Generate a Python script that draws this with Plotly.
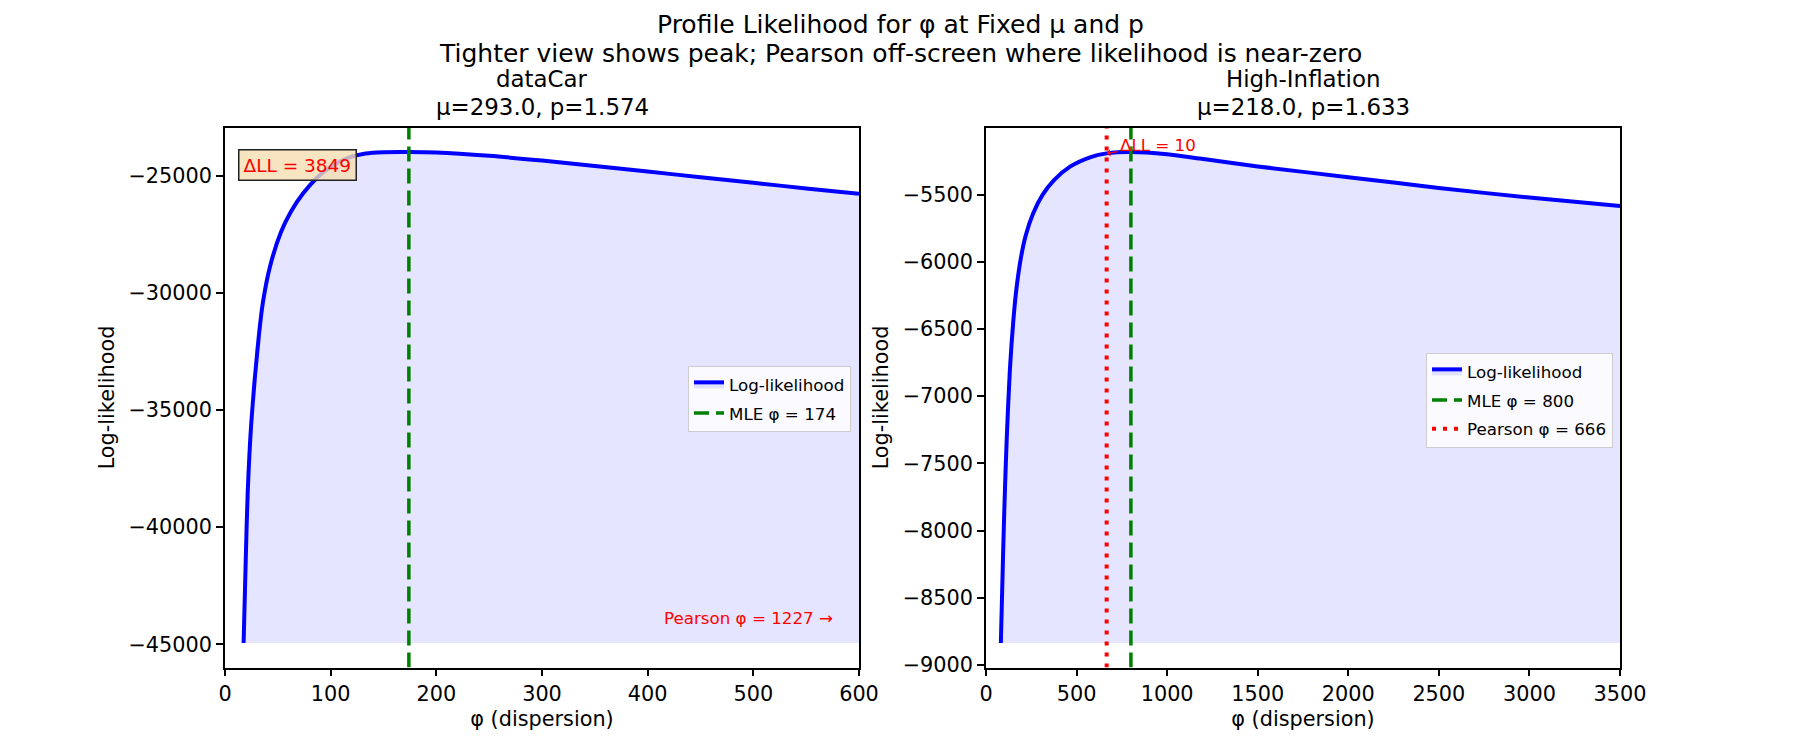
import plotly.graph_objects as go

# ---------------- data ----------------
phi_left = [17.6, 19.6, 21.5, 24.9, 32, 36, 42.5, 53, 62.5, 74, 88, 98, 117, 133, 150, 174,
            200, 250, 300, 350, 400, 450, 500, 550, 600]
ll_left = [-44945, -41460, -38500, -35540, -31850, -30370, -28890, -27400, -26520, -25750,
           -25040, -24680, -24230, -24050, -23995, -23987, -24010, -24150, -24350, -24580,
           -24820, -25060, -25300, -25540, -25770]

phi_right = [82, 92, 101, 114, 132, 152, 168, 194, 220, 260, 313, 377, 466, 578, 666, 800,
             1000, 1200, 1500, 2000, 2500, 3000, 3500]
ll_right = [-8837, -8300, -7850, -7330, -6800, -6420, -6200, -5960, -5800, -5640, -5500,
            -5390, -5290, -5220, -5193, -5183, -5200, -5235, -5290, -5370, -5450, -5522, -5585]

mle_left = 174
pearson_left = 1227
delta_ll_left = 3849
mle_right = 800
pearson_right = 666
delta_ll_right = 10

panel_names = ["dataCar", "High-Inflation"]
panel_params = ["μ=293.0, p=1.574", "μ=218.0, p=1.633"]

xticks_left = [0, 100, 200, 300, 400, 500, 600]
yticks_left = [-45000, -40000, -35000, -30000, -25000]
xticks_right = [0, 500, 1000, 1500, 2000, 2500, 3000, 3500]
yticks_right = [-9000, -8500, -8000, -7500, -7000, -6500, -6000, -5500]
xlim_left = [0, 600]
xlim_right = [0, 3500]

# ---------------- styling ----------------
FONT = "DejaVu Sans"
W, H = 1800, 750
BLUE = "rgb(0,0,255)"
GREEN = "rgb(0,128,0)"
RED = "rgb(255,0,0)"
FILL = "rgba(0,0,255,0.1)"

dom_x1 = [225 / W, 859 / W]
dom_x2 = [986 / W, 1620 / W]
dom_y = [1 - 667.5 / H, 1 - 127.5 / H]


def auto_range(vals):
    lo, hi = min(vals), max(vals)
    r = hi - lo
    return [lo - 0.05 * r, hi + 0.05 * r]


def lab(v):
    return ("\u2212" + str(abs(v))) if v < 0 else str(v)


fig = go.Figure()


def add_panel(phi, ll, xa, ya, legend, vlines):
    base = [min(ll)] * len(phi)
    fig.add_trace(go.Scatter(x=phi, y=base, mode="lines", line=dict(width=0, color=FILL),
                             showlegend=False, hoverinfo="skip", xaxis=xa, yaxis=ya))
    fig.add_trace(go.Scatter(x=phi, y=ll, mode="lines", fill="tonexty", fillcolor=FILL,
                             line=dict(color=BLUE, width=4, shape="spline", smoothing=0.8),
                             name="Log-likelihood", legend=legend, legendgroup=legend + "ll",
                             xaxis=xa, yaxis=ya))
    yr = auto_range(ll)
    for i, (xv, color, dash, width, name) in enumerate(vlines):
        fig.add_trace(go.Scatter(x=[xv, xv], y=yr, mode="lines",
                                 line=dict(color=color, width=width, dash=dash),
                                 name=name, legend=legend, legendgroup=f"{legend}v{i}",
                                 xaxis=xa, yaxis=ya))
    return yr


yr1 = add_panel(phi_left, ll_left, "x", "y", "legend",
                [(mle_left, GREEN, "15px,7px", 3.5, f"MLE φ = {mle_left}")])
yr2 = add_panel(phi_right, ll_right, "x2", "y2", "legend2",
                [(mle_right, GREEN, "15px,7px", 3.5, f"MLE φ = {mle_right}"),
                 (pearson_right, RED, "4px,7px", 4, f"Pearson φ = {pearson_right}")])

axis_common = dict(showline=True, mirror=True, linecolor="black", linewidth=1.6,
                   ticks="outside", ticklen=7, tickwidth=1.6, tickcolor="black",
                   showgrid=False, zeroline=False, automargin=False,
                   tickfont=dict(family=FONT, size=20.8, color="black"))
title_font = dict(family=FONT, size=20.8, color="black")

legend_common = dict(bgcolor="rgba(255,255,255,0.8)", bordercolor="#cccccc", borderwidth=1,
                     font=dict(family=FONT, size=16.7, color="black"), tracegroupgap=4,
                     traceorder="grouped")

fig.update_layout(
    template="none",
    width=W, height=H, margin=dict(l=0, r=0, t=0, b=0, autoexpand=False),
    paper_bgcolor="white", plot_bgcolor="white",
    font=dict(family=FONT, color="black"),
    xaxis=dict(domain=dom_x1, range=xlim_left, tickvals=xticks_left,
               ticktext=[lab(v) for v in xticks_left],
               title=dict(text="φ (dispersion)", font=title_font, standoff=6), **axis_common),
    yaxis=dict(domain=dom_y, range=yr1, tickvals=yticks_left,
               ticktext=[lab(v) for v in yticks_left],
               title=dict(text="Log-likelihood", font=title_font, standoff=8), **axis_common),
    xaxis2=dict(domain=dom_x2, range=xlim_right, tickvals=xticks_right,
                ticktext=[lab(v) for v in xticks_right], anchor="y2",
                title=dict(text="φ (dispersion)", font=title_font, standoff=6), **axis_common),
    yaxis2=dict(domain=dom_y, range=yr2, tickvals=yticks_right,
                ticktext=[lab(v) for v in yticks_right], anchor="x2",
                title=dict(text="Log-likelihood", font=title_font, standoff=8), **axis_common),
    legend=dict(x=851 / W, xanchor="right", y=1 - 366 / H, yanchor="top", **legend_common),
    legend2=dict(x=1613 / W, xanchor="right", y=1 - 353 / H, yanchor="top", **legend_common),
    showlegend=True,
)

ann = []
# suptitle
ann.append(dict(text="Profile Likelihood for φ at Fixed μ and p", x=0.5, y=1 - 25 / H,
                xref="paper", yref="paper", xanchor="center", yanchor="middle",
                showarrow=False, font=dict(family=FONT, size=25, color="black")))
ann.append(dict(text="Tighter view shows peak; Pearson off-screen where likelihood is near-zero",
                x=0.5, y=1 - 53.5 / H, xref="paper", yref="paper", xanchor="center",
                yanchor="middle", showarrow=False, font=dict(family=FONT, size=25, color="black")))
# subplot titles
for dom, name, par in [(dom_x1, panel_names[0], panel_params[0]),
                       (dom_x2, panel_names[1], panel_params[1])]:
    cx = (dom[0] + dom[1]) / 2
    ann.append(dict(text=name, x=cx, y=1 - 79 / H, xref="paper", yref="paper",
                    xanchor="center", yanchor="middle", showarrow=False,
                    font=dict(family=FONT, size=22.9, color="black")))
    ann.append(dict(text=par, x=cx, y=1 - 107 / H, xref="paper", yref="paper",
                    xanchor="center", yanchor="middle", showarrow=False,
                    font=dict(family=FONT, size=22.9, color="black")))
# Delta LL box (left)
ann.append(dict(text=f"ΔLL = {delta_ll_left}", x=0.02, y=0.96, xref="x domain", yref="y domain",
                xanchor="left", yanchor="top", showarrow=False,
                font=dict(family=FONT, size=18.5, color=RED),
                bgcolor="rgba(245,222,179,0.8)", bordercolor="#222222", borderwidth=1.5,
                borderpad=4))
# Pearson off-screen note (left)
ann.append(dict(text=f"Pearson φ = {pearson_left} →", x=0.962, y=0.091, xref="x domain",
                yref="y domain", xanchor="right", yanchor="middle", showarrow=False,
                font=dict(family=FONT, size=16.7, color=RED)))
# Delta LL arrow (right)
ll_at_pearson = ll_right[phi_right.index(pearson_right)]
ann.append(dict(text=f"ΔLL = {delta_ll_right}", x=pearson_right, y=ll_at_pearson,
                xref="x2", yref="y2", showarrow=True, ax=51, ay=-8,
                arrowhead=1, arrowsize=1, arrowwidth=1.2, arrowcolor=RED,
                font=dict(family=FONT, size=16.7, color=RED)))
fig.update_layout(annotations=ann)

fig.write_html("out.html")
